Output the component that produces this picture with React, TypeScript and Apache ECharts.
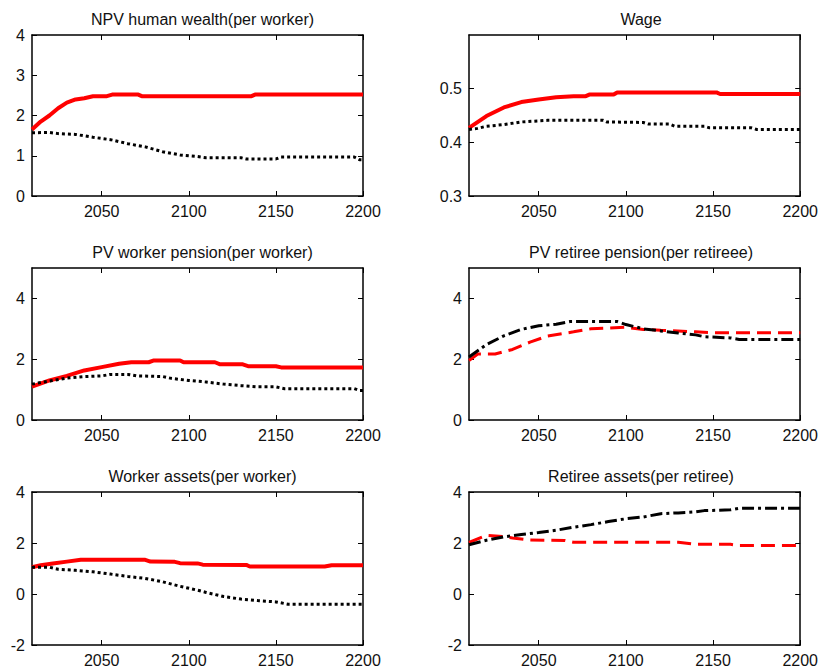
import React, { useEffect, useRef } from "react";
import * as echarts from "echarts";

// ---- data: [year, value] ----
const humanWealthReform: number[][] = [
  [2010, 1.65], [2015, 1.85], [2020, 2.0], [2025, 2.18], [2030, 2.32], [2035, 2.4], [2040, 2.43],
  [2045, 2.48], [2053, 2.48], [2056, 2.52], [2071, 2.52], [2073, 2.48], [2136, 2.48],
  [2138, 2.52], [2200, 2.52],
];
const humanWealthBase: number[][] = [
  [2010, 1.57], [2020, 1.58], [2025, 1.55], [2035, 1.53], [2045, 1.46], [2055, 1.4],
  [2065, 1.3], [2075, 1.22], [2085, 1.1], [2095, 1.02], [2105, 0.98], [2110, 0.95],
  [2130, 0.95], [2133, 0.92], [2150, 0.92], [2153, 0.97], [2195, 0.97], [2198, 0.9], [2200, 0.9],
];
const wageReform: number[][] = [
  [2010, 0.427], [2020, 0.449], [2030, 0.465], [2040, 0.475], [2050, 0.48], [2060, 0.484],
  [2070, 0.486], [2077, 0.486], [2079, 0.489], [2093, 0.489], [2095, 0.493], [2152, 0.493],
  [2154, 0.49], [2200, 0.49],
];
const wageBase: number[][] = [
  [2010, 0.424], [2015, 0.426], [2020, 0.43], [2030, 0.433], [2040, 0.438], [2055, 0.441],
  [2087, 0.441], [2089, 0.438], [2110, 0.437], [2113, 0.434], [2125, 0.434], [2128, 0.43],
  [2145, 0.43], [2148, 0.427], [2172, 0.427], [2175, 0.424], [2200, 0.424],
];
const workerPensionReform: number[][] = [
  [2010, 1.1], [2020, 1.3], [2030, 1.45], [2040, 1.63], [2050, 1.74], [2060, 1.85],
  [2067, 1.9], [2077, 1.9], [2080, 1.96], [2095, 1.96], [2097, 1.9], [2115, 1.9],
  [2118, 1.83], [2131, 1.83], [2134, 1.77], [2150, 1.77], [2153, 1.73], [2200, 1.73],
];
const workerPensionBase: number[][] = [
  [2010, 1.18], [2020, 1.28], [2030, 1.38], [2040, 1.43], [2050, 1.45], [2055, 1.5],
  [2065, 1.5], [2070, 1.45], [2085, 1.43], [2090, 1.37], [2100, 1.3], [2110, 1.25],
  [2120, 1.18], [2130, 1.13], [2140, 1.09], [2150, 1.09], [2155, 1.03], [2195, 1.03],
  [2198, 0.97], [2200, 0.97],
];
const retireePensionBase: number[][] = [
  [2010, 2.07], [2020, 2.48], [2030, 2.77], [2040, 2.98], [2050, 3.1], [2060, 3.15],
  [2068, 3.24], [2095, 3.24], [2100, 3.14], [2110, 3.0], [2120, 2.93], [2130, 2.86],
  [2140, 2.8], [2145, 2.74], [2160, 2.7], [2165, 2.65], [2200, 2.65],
];
const retireePensionReform: number[][] = [
  [2010, 1.96], [2015, 2.17], [2025, 2.17], [2035, 2.32], [2045, 2.56], [2055, 2.76],
  [2070, 2.9], [2080, 3.0], [2100, 3.05], [2110, 2.98], [2120, 2.95], [2140, 2.9],
  [2150, 2.87], [2200, 2.87],
];
const workerAssetsReform: number[][] = [
  [2010, 1.05], [2015, 1.13], [2022, 1.2], [2030, 1.27], [2038, 1.34], [2075, 1.34],
  [2078, 1.27], [2092, 1.26], [2095, 1.21], [2105, 1.2], [2108, 1.15], [2133, 1.14],
  [2135, 1.08], [2178, 1.08], [2182, 1.13], [2200, 1.13],
];
const workerAssetsBase: number[][] = [
  [2010, 1.05], [2020, 1.05], [2025, 0.97], [2035, 0.93], [2045, 0.87], [2055, 0.78],
  [2065, 0.69], [2075, 0.61], [2085, 0.48], [2095, 0.3], [2105, 0.15], [2110, 0.06],
  [2120, -0.1], [2130, -0.2], [2140, -0.26], [2150, -0.31], [2157, -0.4], [2200, -0.4],
];
const retireeAssetsBase: number[][] = [
  [2010, 1.93], [2020, 2.11], [2030, 2.24], [2040, 2.33], [2050, 2.41], [2060, 2.5],
  [2070, 2.62], [2080, 2.72], [2090, 2.84], [2100, 2.95], [2110, 3.02], [2120, 3.15],
  [2130, 3.18], [2140, 3.22], [2145, 3.27], [2160, 3.3], [2165, 3.36], [2200, 3.36],
];
const retireeAssetsReform: number[][] = [
  [2010, 2.02], [2020, 2.3], [2030, 2.25], [2035, 2.2], [2045, 2.12], [2065, 2.1],
  [2070, 2.03], [2130, 2.03], [2140, 1.95], [2160, 1.95], [2165, 1.9], [2200, 1.9],
];

const yearTicks = [2050, 2100, 2150, 2200];

type LineKind = "solid" | "dotted" | "dashed" | "dashdot";
const RED = "#ff0000";
const BLACK = "#000000";
const FONT = "Liberation Sans, Arial, sans-serif";
const TITLE_SIZE = 16;
const TICK_SIZE = 16;

interface Panel {
  title: string;
  left: number;
  top: number;
  width: number;
  height: number;
  yMin: number;
  yMax: number;
  yTicks: number[];
  lines: { data: number[][]; color: string; kind: LineKind }[];
}

const panels: Panel[] = [
  {
    title: "NPV human wealth(per worker)", left: 32, top: 35, width: 331, height: 161,
    yMin: 0, yMax: 4, yTicks: [0, 1, 2, 3, 4],
    lines: [
      { data: humanWealthReform, color: RED, kind: "solid" },
      { data: humanWealthBase, color: BLACK, kind: "dotted" },
    ],
  },
  {
    title: "Wage", left: 469, top: 35, width: 334, height: 161,
    yMin: 0.3, yMax: 0.6, yTicks: [0.3, 0.4, 0.5],
    lines: [
      { data: wageReform, color: RED, kind: "solid" },
      { data: wageBase, color: BLACK, kind: "dotted" },
    ],
  },
  {
    title: "PV worker pension(per worker)", left: 32, top: 268, width: 331, height: 152,
    yMin: 0, yMax: 5, yTicks: [0, 2, 4],
    lines: [
      { data: workerPensionReform, color: RED, kind: "solid" },
      { data: workerPensionBase, color: BLACK, kind: "dotted" },
    ],
  },
  {
    title: "PV retiree pension(per retireee)", left: 469, top: 268, width: 334, height: 152,
    yMin: 0, yMax: 5, yTicks: [0, 2, 4],
    lines: [
      { data: retireePensionReform, color: RED, kind: "dashed" },
      { data: retireePensionBase, color: BLACK, kind: "dashdot" },
    ],
  },
  {
    title: "Worker assets(per worker)", left: 32, top: 492, width: 331, height: 153,
    yMin: -2, yMax: 4, yTicks: [-2, 0, 2, 4],
    lines: [
      { data: workerAssetsReform, color: RED, kind: "solid" },
      { data: workerAssetsBase, color: BLACK, kind: "dotted" },
    ],
  },
  {
    title: "Retiree assets(per retiree)", left: 469, top: 492, width: 334, height: 153,
    yMin: -2, yMax: 4, yTicks: [-2, 0, 2, 4],
    lines: [
      { data: retireeAssetsReform, color: RED, kind: "dashed" },
      { data: retireeAssetsBase, color: BLACK, kind: "dashdot" },
    ],
  },
];

function dashFor(kind: LineKind): any {
  switch (kind) {
    case "dotted": return [3, 3];
    case "dashed": return [14, 7];
    case "dashdot": return [12, 4, 3, 4];
    default: return "solid";
  }
}

function buildOption() {
  const grid: any[] = [];
  const xAxis: any[] = [];
  const yAxis: any[] = [];
  const series: any[] = [];
  const title: any[] = [];
  const axisLine = { show: true, onZero: false, lineStyle: { color: "#000", width: 1.5 } };
  const tick = (values: number[]) => ({
    show: true, inside: true, length: 5, customValues: values, lineStyle: { color: "#000" },
  });

  panels.forEach((p, i) => {
    grid.push({ left: p.left, top: p.top, width: p.width, height: p.height, show: false });
    title.push({
      text: p.title,
      left: p.left + p.width / 2,
      top: p.top - 29,
      textAlign: "center",
      textStyle: { fontFamily: FONT, fontSize: TITLE_SIZE, fontWeight: "normal", color: "#111" },
    });
    const xBase = {
      type: "value", gridIndex: i, min: 2010, max: 2200,
      axisLine, splitLine: { show: false },
    };
    xAxis.push({
      ...xBase, position: "bottom",
      axisTick: tick(yearTicks),
      axisLabel: {
        show: true, customValues: yearTicks, margin: 7, fontFamily: FONT, fontSize: TICK_SIZE, color: "#111",
        formatter: (v: number) => String(Math.round(v)),
      },
    });
    xAxis.push({ ...xBase, position: "top", axisTick: tick(yearTicks), axisLabel: { show: false } });
    const yBase = {
      type: "value", gridIndex: i, min: p.yMin, max: p.yMax,
      axisLine, splitLine: { show: false },
    };
    yAxis.push({
      ...yBase, position: "left",
      axisTick: tick(p.yTicks),
      axisLabel: {
        show: true, customValues: p.yTicks, margin: 7, fontFamily: FONT, fontSize: TICK_SIZE, color: "#111",
        formatter: (v: number) => String(Math.round(v * 10) / 10),
      },
    });
    yAxis.push({ ...yBase, position: "right", axisTick: tick(p.yTicks), axisLabel: { show: false } });
    p.lines.forEach((l) => {
      series.push({
        type: "line",
        xAxisIndex: i * 2,
        yAxisIndex: i * 2,
        data: l.data,
        showSymbol: false,
        symbol: "none",
        silent: true,
        z: l.color === RED ? 2 : 3,
        lineStyle: { color: l.color, width: l.kind === "solid" ? 4 : 3, type: dashFor(l.kind), cap: "butt" },
      });
    });
  });

  return { animation: false, backgroundColor: "#fff", title, grid, xAxis, yAxis, series };
}

export default function App() {
  const ref = useRef<HTMLDivElement>(null);
  useEffect(() => {
    document.body.style.margin = "0";
    if (!ref.current) return;
    const chart = echarts.init(ref.current, undefined, { renderer: "svg" });
    chart.setOption(buildOption());
    return () => chart.dispose();
  }, []);
  return <div ref={ref} style={{ width: 821, height: 671, background: "#fff" }} />;
}
